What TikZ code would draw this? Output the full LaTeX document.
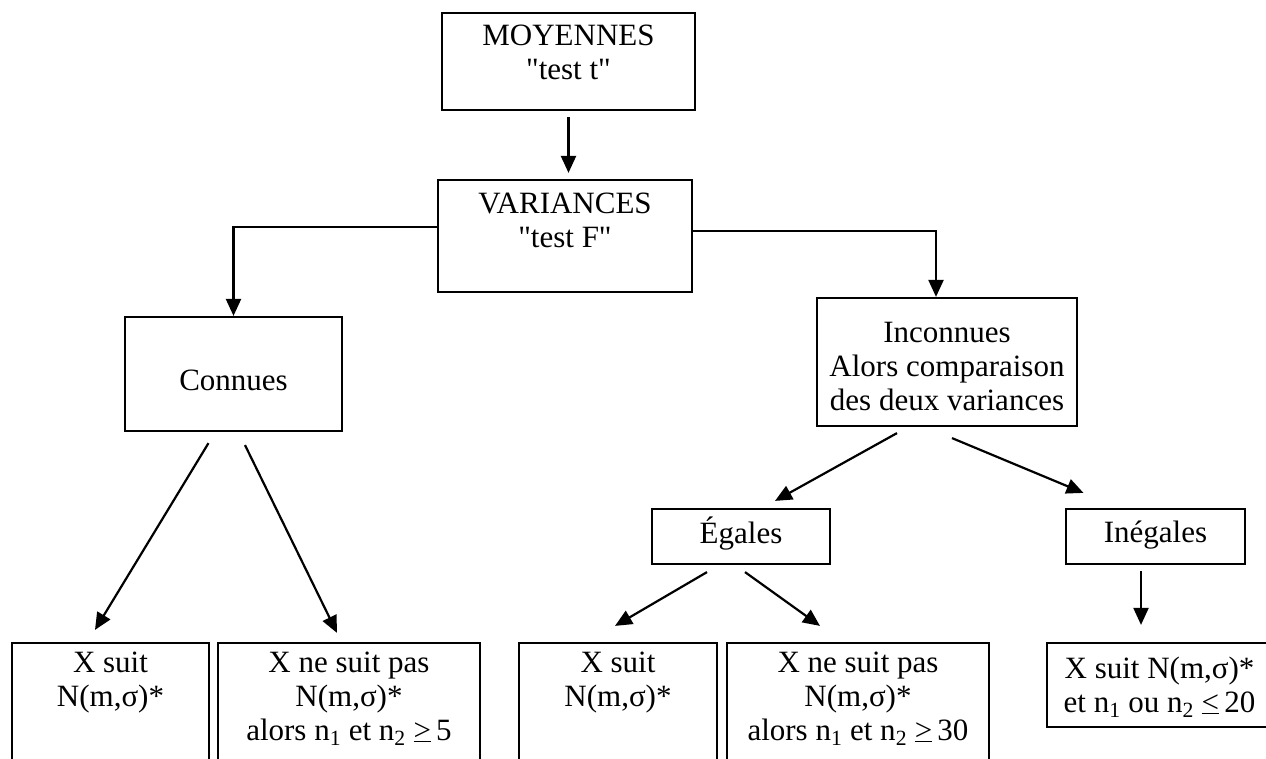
\documentclass[tikz,border=0pt]{standalone}
\usepackage{fontspec}
\setmainfont{Liberation Serif}
\usetikzlibrary{arrows.meta}
\definecolor{encre}{HTML}{000000}
\tikzset{
  boite/.style={draw=encre,line width=2.2pt,inner sep=0pt,align=center,anchor=base,
    font=\fontsize{31}{34}\selectfont},
  fleche/.style={-{Triangle[length=17pt,width=15pt]},encre,line width=2.2pt},
}
\begin{document}
\begin{tikzpicture}[x=1pt,y=-1pt]
  \useasboundingbox (0,0) rectangle (1266,759);
  \node[boite,minimum width=253pt,text height=67pt,text depth=30pt] (moy) at (568.5,80) {MOYENNES\\\textquotedbl test t\textquotedbl};
  \node[boite,minimum width=254pt,text height=68pt,text depth=44pt] (var) at (565,248) {VARIANCES\\\textquotedbl test F\textquotedbl};
  \node[boite,minimum width=217pt,text height=73pt,text depth=41pt] (con) at (233.5,390) {Connues};
  \node[boite,minimum width=260pt,text height=112pt,text depth=16pt] (inc) at (947,410) {Inconnues\\Alors comparaison\\des deux variances};
  \node[boite,minimum width=178pt,text height=34pt,text depth=21pt] (ega) at (741,543) {Égales};
  \node[boite,minimum width=179pt,text height=33pt,text depth=22pt] (ineg) at (1155.5,542) {Inégales};
  \node[boite,minimum width=197pt,text height=63pt,text depth=64pt] (x1) at (110.5,706) {X suit\\N(m,σ)*};
  \node[boite,minimum width=262pt,text height=97pt,text depth=30pt] (x2) at (349,740) {X ne suit pas\\N(m,σ)*\\alors n\textsubscript{1} et n\textsubscript{2} \underline{>}\,5};
  \node[boite,minimum width=198pt,text height=63pt,text depth=64pt] (x3) at (618,706) {X suit\\N(m,σ)*};
  \node[boite,minimum width=262pt,text height=97pt,text depth=30pt] (x4) at (858,740) {X ne suit pas\\N(m,σ)*\\alors n\textsubscript{1} et n\textsubscript{2} \underline{>}\,30};
  \node[boite,minimum width=225pt,text height=69pt,text depth=15pt] (x5) at (1159.5,712) {X suit N(m,σ)*\\et n\textsubscript{1} ou n\textsubscript{2} \underline{<}\,20};
  \draw[fleche,shorten <=6pt,shorten >=6pt] (moy.south) -- (moy.south |- var.north);
  \draw[fleche] ([yshift=9pt]var.west) -| (con.north);
  \draw[fleche] ([yshift=5pt]var.east) -| ([xshift=-11pt]inc.north);
  \draw[fleche] ([xshift=-25pt,yshift=-11pt]con.south) -- ([xshift=-15.5pt,yshift=12pt]x1.north);
  \draw[fleche] ([xshift=11.5pt,yshift=-13pt]con.south) -- ([xshift=-12pt,yshift=9pt]x2.north);
  \draw[fleche] ([xshift=-50pt,yshift=-6pt]inc.south) -- ([xshift=34pt,yshift=7pt]ega.north);
  \draw[fleche] ([xshift=5pt,yshift=-11pt]inc.south) -- ([xshift=-72pt,yshift=15pt]ineg.north);
  \draw[fleche] ([xshift=-34pt,yshift=-7pt]ega.south) -- ([xshift=-3pt,yshift=16pt]x3.north);
  \draw[fleche] ([xshift=4pt,yshift=-7pt]ega.south) -- ([xshift=-38pt,yshift=16pt]x4.north);
  \draw[fleche] ([xshift=-14.5pt,yshift=-6pt]ineg.south) -- ([xshift=-18.5pt,yshift=17pt]x5.north);
\end{tikzpicture}
\end{document}
